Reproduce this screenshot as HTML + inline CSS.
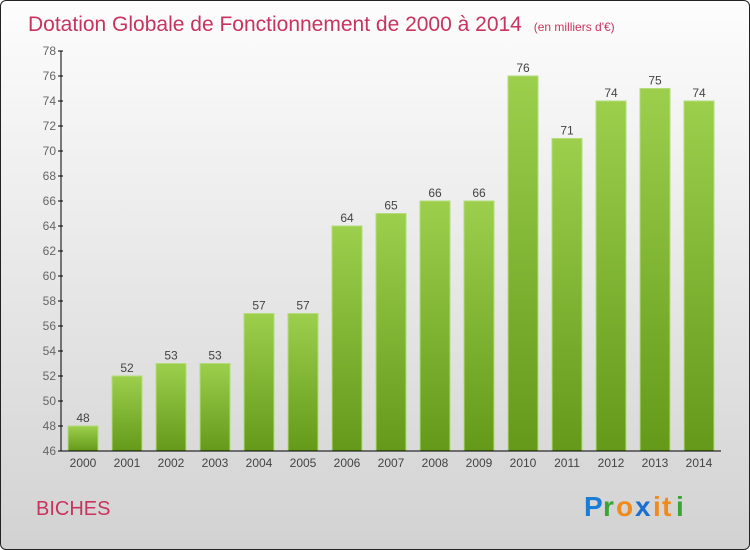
<!DOCTYPE html>
<html><head><meta charset="utf-8"><style>
body{margin:0;width:750px;height:550px;overflow:hidden;font-family:"Liberation Sans",sans-serif}
#frame{position:absolute;left:0;top:0;width:748px;height:548px;border:1px solid #222;border-radius:6px;background:linear-gradient(#fdfdfd,#d2d2d2);overflow:hidden}
</style></head><body>
<div id="frame">
<svg width="750" height="550">
<defs><linearGradient id="bg" x1="0" y1="0" x2="0" y2="1"><stop offset="0" stop-color="#9ccf4c"/><stop offset="1" stop-color="#64991a"/></linearGradient></defs>
<text x="27" y="30" font-size="21" fill="#c8335f">Dotation Globale de Fonctionnement de 2000 à 2014 <tspan font-size="12" dx="6">(en milliers d'€)</tspan></text>
<g id="yaxis"></g>
<g id="bars"></g>
<g id="xaxis"></g>
<text x="35" y="514" font-size="20" fill="#c8335f">BICHES</text>
<g font-size="28" font-weight="bold" font-family="Liberation Sans,sans-serif">
<text x="583" y="515" fill="#1a7fd4">P</text><text x="602" y="515" fill="#3aa535">r</text><text x="615" y="515" fill="#f08a1c">o</text><text x="634" y="515" fill="#1a6fd0">x</text><text x="652" y="515" fill="#f08a1c">i</text><text x="661" y="515" fill="#f08a1c">t</text><text x="675" y="515" fill="#3aa535">i</text>
</g>
</svg></div>
<script>
const years=["2000","2001","2002","2003","2004","2005","2006","2007","2008","2009","2010","2011","2012","2013","2014"];
const values=[48,52,53,53,57,57,64,65,66,66,76,71,74,75,74];
const yTicks=[46,48,50,52,54,56,58,60,62,64,66,68,70,72,74,76,78];
const NS="http://www.w3.org/2000/svg";
const yMin=46,yMax=78,plotTop=50,plotBot=450;
const y=v=>plotBot-(v-yMin)/(yMax-yMin)*(plotBot-plotTop);
const x=i=>82+i*44;
function mk(t,a,p){const e=document.createElementNS(NS,t);for(const k in a)e.setAttribute(k,a[k]);p.appendChild(e);return e;}
const ya=document.getElementById('yaxis'),ba=document.getElementById('bars'),xa=document.getElementById('xaxis');
mk('line',{x1:60,y1:plotTop,x2:60,y2:plotBot,stroke:'#000'},ya);
yTicks.forEach(t=>{
 const l=mk('line',{x1:57,y1:y(t),x2:62,y2:y(t),stroke:'#000'},ya);
 
 
 const tx=mk('text',{x:55,y:y(t)+4,'font-size':12,fill:'#666','text-anchor':'end'},ya);tx.textContent=t;
 
 
});
values.forEach((v,i)=>{
 const r=mk('rect',{x:x(i)-15,y:y(v),width:30,height:plotBot-y(v),fill:'url(#bg)',stroke:'#b5dc7a','stroke-width':1},ba);
 
 
 const t=mk('text',{x:x(i),y:y(v)-4,'font-size':12,fill:'#444','text-anchor':'middle'},ba);t.textContent=v;
 
 
 const xl=mk('text',{x:x(i),y:466,'font-size':12,fill:'#444','text-anchor':'middle'},xa);xl.textContent=years[i];
 
 
});
mk('line',{x1:60,y1:plotBot,x2:720,y2:plotBot,stroke:'#000'},xa);
</script>
</body></html>
